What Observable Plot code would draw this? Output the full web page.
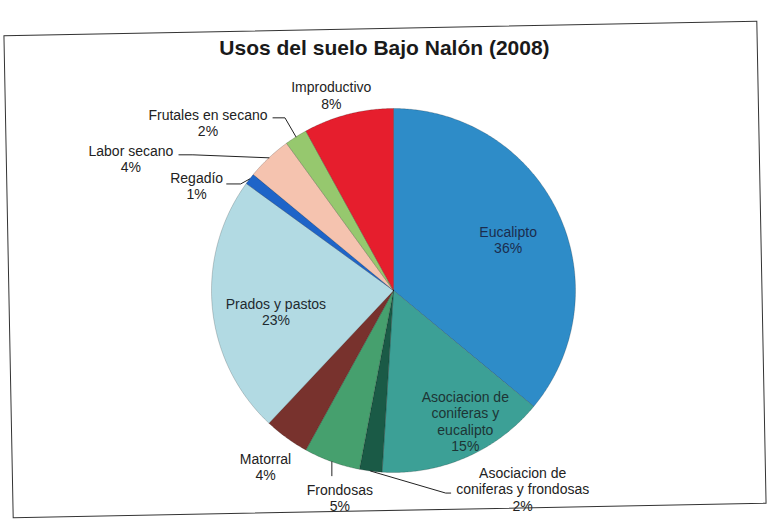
<!DOCTYPE html>
<html>
<head>
<meta charset="utf-8">
<script src="https://cdn.jsdelivr.net/npm/d3@7"></script>
<script src="https://cdn.jsdelivr.net/npm/@observablehq/plot@0.6"></script>
<style>
  html, body { margin: 0; padding: 0; background: #fff; }
  #wrap { position: relative; width: 769px; height: 521px; overflow: hidden; background: #fff; }
  #chart { position: absolute; left: 0; top: 0; }
  #frame { position: absolute; left: 8px; top: 28px; width: 752px; height: 481px;
           border: 1.5px solid #333; transform: rotate(-1.1deg); pointer-events: none; }
  #title { position: absolute; left: 0; top: 36px; width: 769px; text-align: center;
           font: bold 21px "Liberation Sans", Arial, sans-serif; color: #1a1a1a; }
</style>
</head>
<body>
<div id="wrap">
  <div id="chart"></div>
  <div id="frame"></div>
  <div id="title">Usos del suelo Bajo Nalón (2008)</div>
</div>
<script>
// ---- Data ----
const categories = [
  "Eucalipto",
  "Asociacion de coniferas y eucalipto",
  "Asociacion de coniferas y frondosas",
  "Frondosas",
  "Matorral",
  "Prados y pastos",
  "Regadío",
  "Labor secano",
  "Frutales en secano",
  "Improductivo"
];
const values = [36, 15, 2, 5, 4, 23, 1, 4, 2, 8];
const labelNames = [
  "Eucalipto",
  "Asociacion de\nconiferas y\neucalipto",
  "Asociacion de\nconiferas y frondosas",
  "Frondosas",
  "Matorral",
  "Prados y pastos",
  "Regadío",
  "Labor secano",
  "Frutales en secano",
  "Improductivo"
];
const sliceColors = ["#2e8cc8", "#3ca096", "#1a5a46", "#46a06e", "#78322d",
                     "#b2dae3", "#1e64c8", "#f5c3af", "#96c86e", "#e61e2d"];

// ---- Layout (pixel offsets relative to the point at radius r on the slice mid-angle) ----
const R = 182;
const labelLayout = [
  {r: 0.69, dx: 1, dy: 3, color: "#1b2c4e"},
  {r: 0.80, dx: 14, dy: -3, color: "#1d3535"},
  {r: 1, dx: 152, dy: 18, leader: [[75, 22], [80, 22]]},
  {r: 1, dx: 8, dy: 36, leader: [[0, 14]]},
  {r: 1, dx: -21, dy: 29},
  {r: 0.66, dx: 2, dy: 10, color: "#1e2a30"},
  {r: 1, dx: -53, dy: 7, leader: [[-9, 5], [-23, 5]]},
  {r: 1, dx: -138, dy: 1, leader: [[-76, -3], [-90, -3]]},
  {r: 1, dx: -88, dy: -14, leader: [[-11, -19], [-23, -19]]},
  {r: 1, dx: -17, dy: -19}
];

// ---- Geometry from data ----
const arcs = d3.pie().sort(null).value(d => d)(values);
const slicePts = [];
arcs.forEach((a, i) => {
  const name = categories[i];
  slicePts.push({name, x: 0, y: 0});
  const steps = Math.max(2, Math.ceil((a.endAngle - a.startAngle) / (Math.PI / 360)));
  for (let k = 0; k <= steps; k++) {
    const t = a.startAngle + (a.endAngle - a.startAngle) * k / steps;
    slicePts.push({name, x: R * Math.sin(t), y: R * Math.cos(t)});
  }
  slicePts.push({name, x: 0, y: 0});
});

const labels = [];
const leaders = [];
arcs.forEach((a, i) => {
  const L = labelLayout[i];
  const m = (a.startAngle + a.endAngle) / 2;
  const px = L.r * R * Math.sin(m), py = L.r * R * Math.cos(m);
  labels.push({
    x: px + L.dx, y: py - L.dy,
    text: labelNames[i] + "\n" + values[i] + "%",
    color: L.color || "#222"
  });
  if (L.leader) {
    leaders.push({name: categories[i], x: px, y: py});
    L.leader.forEach(([ox, oy]) => leaders.push({name: categories[i], x: px + ox, y: py - oy}));
  }
});

const cx = 393, cy = 290, W = 769, H = 521;
const chart = Plot.plot({
  width: W, height: H,
  margin: 0,
  x: {domain: [-cx, W - cx], axis: null},
  y: {domain: [-(H - cy), cy], axis: null},
  color: {type: "ordinal", domain: categories, range: sliceColors},
  style: {background: "transparent"},
  marks: [
    Plot.line(slicePts, {x: "x", y: "y", z: "name", fill: "name",
      stroke: "#000", strokeOpacity: 0.3, strokeWidth: 0.6}),
    Plot.line(leaders, {x: "x", y: "y", z: "name", stroke: "#222", strokeWidth: 1}),
    Plot.text(labels, {x: "x", y: "y", text: "text", fill: "color",
      fontSize: 14, lineHeight: 1.17, textAnchor: "middle", lineAnchor: "middle",
      fontFamily: "'Liberation Sans', Arial, sans-serif"})
  ]
});
document.getElementById("chart").appendChild(chart);
</script>
</body>
</html>
